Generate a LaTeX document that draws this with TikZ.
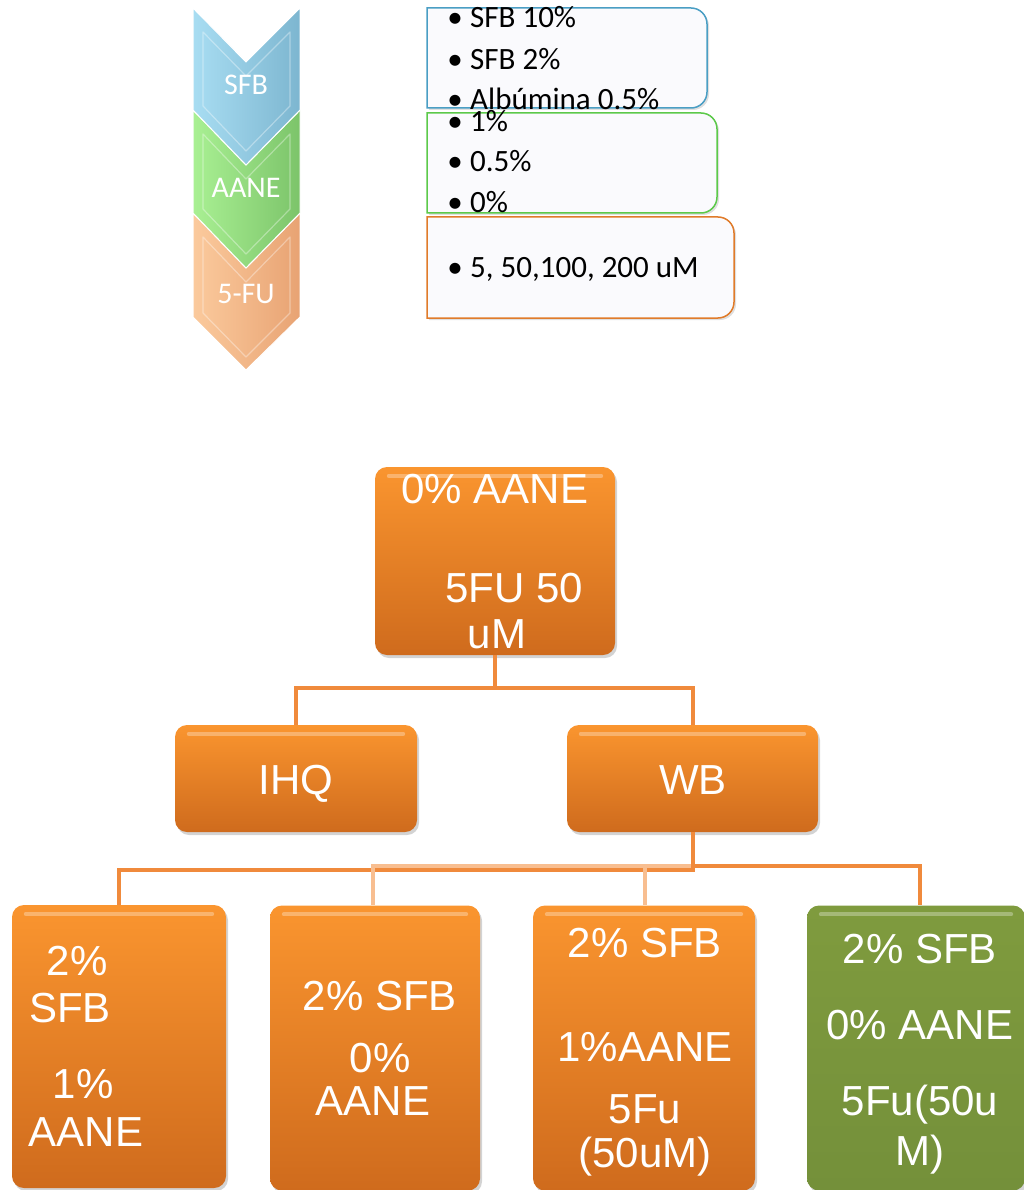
\documentclass[tikz,border=0pt]{standalone}
\usepackage{fontspec}
\setmainfont{Liberation Sans}
\newfontfamily\carlito{Carlito}
\usetikzlibrary{shadows}
\definecolor{sfbL}{HTML}{A8DDF2}
\definecolor{sfbR}{HTML}{7DB6D0}
\definecolor{aaneL}{HTML}{A9F093}
\definecolor{aaneR}{HTML}{7CC46A}
\definecolor{fuL}{HTML}{FBCA9D}
\definecolor{fuR}{HTML}{E8A373}
\definecolor{boxfill}{HTML}{FAFAFD}
\definecolor{bblue}{HTML}{4A9EC4}
\definecolor{bgreen}{HTML}{5CC94A}
\definecolor{borange}{HTML}{E07B2A}
\definecolor{orT}{HTML}{FA952F}
\definecolor{orB}{HTML}{CF6B1D}
\definecolor{grT}{HTML}{7F9B3E}
\definecolor{grB}{HTML}{74903A}
\definecolor{lineD}{HTML}{F08A3C}
\definecolor{lineL}{HTML}{F8BE90}
\begin{document}
\begin{tikzpicture}[x=1pt,y=-1pt,
  chev/.style={draw=white, line width=1pt},
  bevel/.style={draw=white, draw opacity=0.35, line width=1.2pt, line join=round},
  chevtxt/.style={text=white, font=\carlito\fontsize{30}{34}\selectfont, inner sep=0pt, text height=20pt, text depth=0pt},
  listtxt/.style={text=black, font=\carlito\fontsize{31}{35}\selectfont, inner sep=0pt, text height=20pt, text depth=0pt, anchor=west},
  bul/.style={text=black, font=\carlito\fontsize{31}{35}\selectfont, inner sep=0pt, text height=20pt, text depth=0pt},
  listbox/.style={fill=boxfill, line width=1.5pt, drop shadow={opacity=0.25, shadow xshift=2pt, shadow yshift=-2pt}},
  obox/.style={rectangle, rounded corners=12pt, top color=orT, bottom color=orB, draw=none, inner sep=0pt,
     drop shadow={opacity=0.35, shadow xshift=2pt, shadow yshift=-3pt}},
  gbox/.style={obox, top color=grT, bottom color=grB},
  gloss/.style={draw=white, draw opacity=0.3, line width=4pt, line cap=round},
  otxt/.style={text=white, font=\fontsize{42}{48}\selectfont, inner sep=0pt, text height=30pt, text depth=0pt},
  conD/.style={draw=lineD, line width=4pt},
  conL/.style={draw=lineL, line width=4pt}
]
\useasboundingbox (0,0) rectangle (1024,1190);

% ---- chevrons (bottom first) ----
\path[chev, left color=fuL, right color=fuR]
  (193,213) -- (246,268) -- (300,213) -- (300,317) -- (246,370) -- (193,317) -- cycle;
\path[bevel] (203,237) -- (246,282) -- (290,237) -- (290,313) -- (246,357) -- (203,313) -- cycle;
\path[chev, left color=aaneL, right color=aaneR]
  (193,110) -- (246,165) -- (300,110) -- (300,213) -- (246,268) -- (193,213) -- cycle;
\path[bevel] (203,134) -- (246,179) -- (290,134) -- (290,209) -- (246,254) -- (203,209) -- cycle;
\path[chev, left color=sfbL, right color=sfbR]
  (193,8) -- (246,62) -- (300,8) -- (300,110) -- (246,165) -- (193,110) -- cycle;
\path[bevel] (203,32) -- (246,76) -- (290,32) -- (290,106) -- (246,151) -- (203,106) -- cycle;
\node[chevtxt] (lsfb) at (246,85) {SFB};
\node[chevtxt] (laane) at (246,188) {AANE};
\node[chevtxt] (lfu) at (246,293) {5-FU};

% ---- list boxes (square left corners, rounded right corners) ----
\path[listbox, draw=borange] (427,318) -- (427,217) -- (718,217)
  arc[start angle=-90, end angle=0, radius=16] -- (734,302)
  arc[start angle=0, end angle=90, radius=16] -- cycle;
\path[listbox, draw=bgreen] (427,213) -- (427,113) -- (701,113)
  arc[start angle=-90, end angle=0, radius=16] -- (717,197)
  arc[start angle=0, end angle=90, radius=16] -- cycle;
\path[listbox, draw=bblue] (427,108) -- (427,8) -- (691,8)
  arc[start angle=-90, end angle=0, radius=16] -- (707,92)
  arc[start angle=0, end angle=90, radius=16] -- cycle;

\node[bul] (b1a) at (455,18) {\textbullet};
\node[listtxt] (s1a) at (470,18) {SFB 10\%};
\node[bul] (b1b) at (455,60) {\textbullet};
\node[listtxt] (s1b) at (470,60) {SFB 2\%};
\node[bul] (b1c) at (455,100) {\textbullet};
\node[listtxt] (s1c) at (470,100) {Albúmina 0.5\%};
\node[bul] (b2a) at (455,122) {\textbullet};
\node[listtxt] (s2a) at (470,122) {1\%};
\node[bul] (b2b) at (455,162) {\textbullet};
\node[listtxt] (s2b) at (470,162) {0.5\%};
\node[bul] (b2c) at (455,203) {\textbullet};
\node[listtxt] (s2c) at (470,203) {0\%};
\node[bul] (b3a) at (455,267) {\textbullet};
\node[listtxt] (s3a) at (470,267) {5, 50,100, 200 uM};

% ---- org chart boxes ----
\node[obox, minimum width=240pt, minimum height=188pt] (top) at (495,561) {};
\node[obox, minimum width=242pt, minimum height=107pt] (ihq) at (296,778.5) {};
\node[obox, minimum width=251pt, minimum height=107pt] (wb) at (692.5,778.5) {};
\node[obox, minimum width=214pt, minimum height=283pt] (c1) at (119,1046.5) {};
\node[obox, minimum width=210pt, minimum height=285pt] (c2) at (375,1048) {};
\node[obox, minimum width=222pt, minimum height=285pt] (c3) at (644,1048) {};
\node[gbox, minimum width=218pt, minimum height=285pt] (c4) at (916,1048) {};

% top gloss highlights
\foreach \b in {top,ihq,wb,c1,c2,c3,c4}{
  \draw[gloss] ([xshift=14pt,yshift=-9pt]\b.north west) -- ([xshift=-14pt,yshift=-9pt]\b.north east);
}

% ---- connectors ----
\coordinate (j1) at ([yshift=-33pt]top.south);
\draw[conD] (top.south) -- (j1) -| (ihq.north);
\draw[conD] (j1) -| (wb.north);
\coordinate (j2) at ([yshift=-38pt]wb.south);
\coordinate (j3) at ([yshift=-34pt]wb.south);
\coordinate (c4top) at ([xshift=4pt]c4.north);
\draw[conD] (wb.south) -- (j2) -| (c1.north);
\draw[conD] (j3) -| (c4top);
\draw[conL] (j3) -| ([xshift=-2pt]c2.north);
\draw[conL] (j3) -| ([xshift=1pt]c3.north);
\draw[conD] (wb.south) -- (j2);

% ---- org texts ----
\node[otxt] (t0a) at (495,488) {0\% AANE};
\node[otxt] (t0b) at (514,587) {5FU 50};
\node[otxt] (t0c) at (497,633) {uM};
\node[otxt] (tihq) at (296,779) {IHQ};
\node[otxt] (twb) at (693,779) {WB};
\node[otxt] (t1a) at (77,960) {2\%};
\node[otxt] (t1b) at (70,1007) {SFB};
\node[otxt] (t1c) at (83,1083) {1\%};
\node[otxt] (t1d) at (86,1131) {AANE};
\node[otxt] (t2a) at (380,995) {2\% SFB};
\node[otxt] (t2b) at (380,1057) {0\%};
\node[otxt] (t2c) at (373,1100) {AANE};
\node[otxt] (t3a) at (645,942) {2\% SFB};
\node[otxt] (t3b) at (645,1046) {1\%AANE};
\node[otxt] (t3c) at (645,1108) {5Fu};
\node[otxt] (t3d) at (645,1152) {(50uM)};
\node[otxt] (t4a) at (920,948) {2\% SFB};
\node[otxt] (t4b) at (920,1024) {0\% AANE};
\node[otxt] (t4c) at (920,1100) {5Fu(50u};
\node[otxt] (t4d) at (920,1150) {M)};
\end{tikzpicture}
\end{document}
